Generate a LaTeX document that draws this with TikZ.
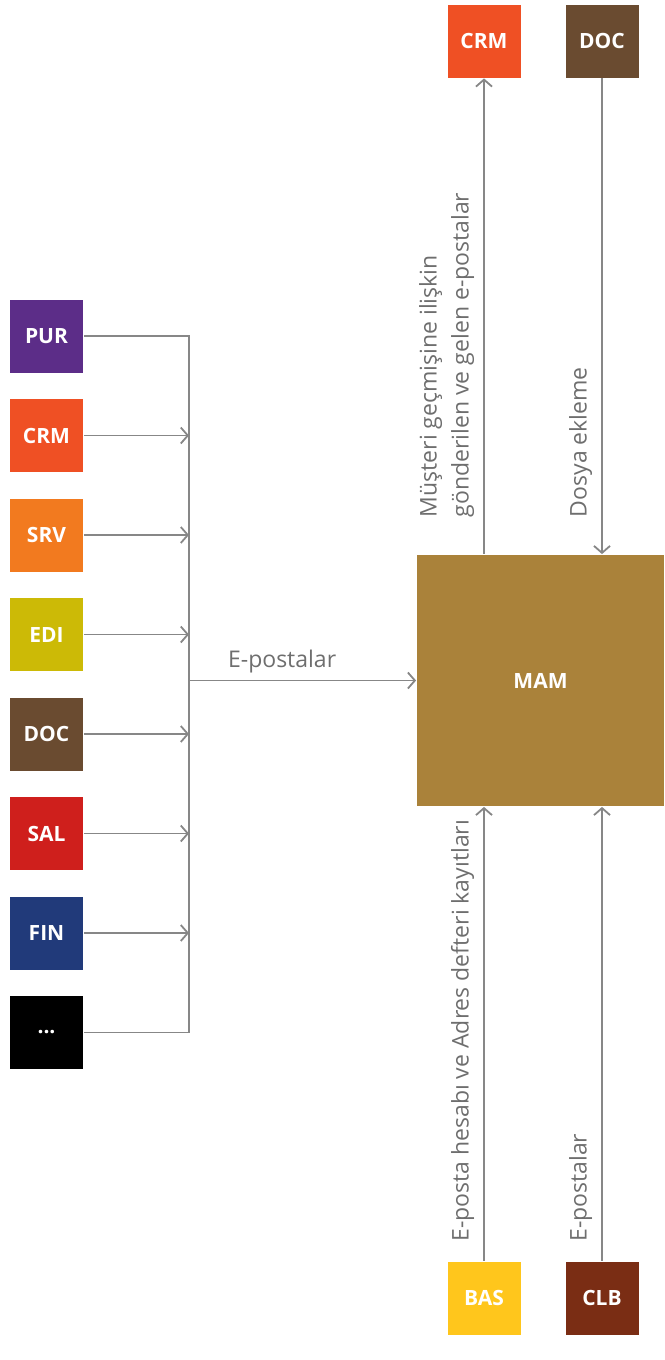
\documentclass[tikz,border=0pt]{standalone}
\usepackage{fontspec}
\setmainfont{Open Sans}
\usetikzlibrary{arrows.meta,positioning}

\definecolor{pur}{HTML}{5C2D88}
\definecolor{crm}{HTML}{EF5024}
\definecolor{srv}{HTML}{F27A1F}
\definecolor{edi}{HTML}{CCBA06}
\definecolor{doc}{HTML}{6A4B30}
\definecolor{sal}{HTML}{CF1F1C}
\definecolor{fin}{HTML}{213A7A}
\definecolor{mam}{HTML}{AA823A}
\definecolor{bas}{HTML}{FFC61C}
\definecolor{clb}{HTML}{7A2D14}
\definecolor{lgray}{HTML}{878787}
\definecolor{tgray}{HTML}{6E6E6E}

\begin{document}
\begin{tikzpicture}[->,>={Straight Barb[length=7pt,width=16pt]},line width=1.8pt,x=1pt,y=1pt,node distance=99.5pt]
  \tikzstyle{box}=[minimum size=73pt,inner sep=0pt,text=white,font=\fontsize{21}{25}\selectfont\bfseries]
  \tikzstyle{wire}=[draw=lgray]
  \tikzstyle{lbl}=[rotate=90,anchor=south west,inner sep=4pt,text=tgray,align=left,font=\fontsize{23}{32}\selectfont]

  \useasboundingbox (0,0) rectangle (664,-1360);

  % sources on the left
  \node[box,fill=pur] (PUR) at (46.5,-336) {PUR};
  \node[box,fill=crm] (CRM) [below of=PUR] {CRM};
  \node[box,fill=srv] (SRV) [below of=CRM] {SRV};
  \node[box,fill=edi] (EDI) [below of=SRV] {EDI};
  \node[box,fill=doc] (DOC) [below of=EDI] {DOC};
  \node[box,fill=sal] (SAL) [below of=DOC] {SAL};
  \node[box,fill=fin] (FIN) [below of=SAL] {FIN};
  \node[box,fill=black] (ETC) [below of=FIN] {...};
  \coordinate (busx) at (189,0);

  \node[box,fill=mam,minimum width=247pt,minimum height=251pt] (MAM) at (540.5,-680.5) {MAM};

  \node[box,fill=crm] (CRMt) at (484,-41) {CRM};
  \node[box,fill=doc] (DOCt) at (602,-41) {DOC};
  \node[box,fill=bas] (BAS) at (484,-1298) {BAS};
  \node[box,fill=clb] (CLB) at (602,-1298) {CLB};

  \draw[wire,-] (PUR) -- (PUR -| busx) -- (ETC -| busx) -- (ETC);
  \foreach \n in {CRM,SRV,EDI,DOC,SAL,FIN}
    \draw[wire] (\n) -- (\n -| busx);
  \draw[wire] (MAM -| busx) -- (MAM.west)
    node[pos=0.41,above=3pt,text=tgray,font=\fontsize{23}{27}\selectfont] (lep) {E-postalar};

  \draw[wire] (MAM.north -| CRMt) -- (CRMt);
  \draw[wire] (DOCt) -- (DOCt |- MAM.north);
  \draw[wire] (BAS) -- (BAS |- MAM.south);
  \draw[wire] (CLB) -- (CLB |- MAM.south);

  \path (MAM.north -| CRMt) ++(-5,32) node[lbl] (lmus) {Müşteri geçmişine ilişkin\\gönderilen ve gelen e-postalar};
  \path (MAM.north -| DOCt) ++(-5,32) node[lbl] (ldoc) {Dosya ekleme};
  \path (BAS.north) ++(-5,14) node[lbl] (lbas) {E-posta hesabı ve Adres defteri kayıtları};
  \path (CLB.north) ++(-5,14) node[lbl] (lclb) {E-postalar};
\end{tikzpicture}
\end{document}
